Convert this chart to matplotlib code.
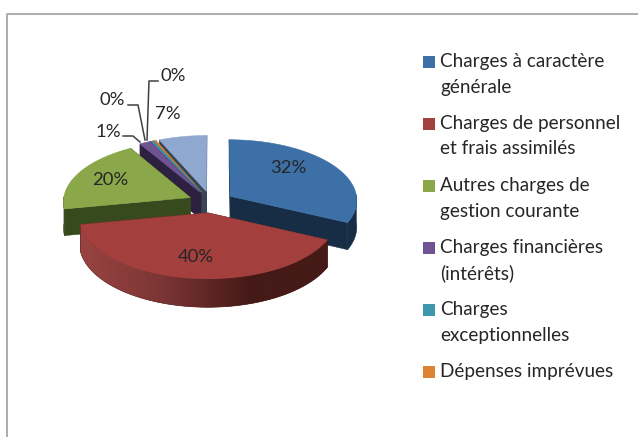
import numpy as np
import matplotlib
matplotlib.use("Agg")
import matplotlib.pyplot as plt
from matplotlib.colors import LinearSegmentedColormap
from matplotlib.patches import Polygon, Rectangle

plt.rcParams["font.family"] = ["Lato", "DejaVu Sans"]

categories = ["Charges à caractère\ngénérale",
              "Charges de personnel\net frais assimilés",
              "Autres charges de\ngestion courante",
              "Charges financières\n(intérêts)",
              "Charges\nexceptionnelles",
              "Dépenses imprévues"]
labels = ["32%", "40%", "20%", "1%", "0%", "0%", "7%"]
values = [32, 40, 19.5, 1.4, 0.3, 0.3, 6.5]
colors = ["#3c70a6", "#a33f3d", "#8aa84a", "#6f5392", "#3d97ad", "#dd8432", "#8ea8cf"]
dark = ["#172d46", "#451a17", "#374a1e", "#2e2040", "#1c4450", "#6a3d14", "#3a4458"]

cx, cy = 211, 202     # pie centre, px
rx, ry = 127, 60.5
persp = 0.06
depth = 26.5
explode = 0.18

fig = plt.figure(figsize=(6.38, 4.37), dpi=100)
ax = fig.add_axes([0, 0, 1, 1])

def project(x, y, down=False):
  w = 1 + persp * y
  return (cx + rx * x / w, cy - ry * y / w + (depth / w if down else 0))

def poly(points, color, z):
  return ax.add_patch(Polygon(points, closed=True, facecolor=color, edgecolor=color,
                              linewidth=0.4, zorder=z))

def drawWedge(start, end, top, side, z, shade=False):
  mid = np.radians((start + end) / 2)
  ox, oy = explode * np.sin(mid), explode * np.cos(mid)
  angles = np.radians(np.arange(start, end + 0.5, 0.5))
  if angles[-1] < np.radians(end):
    angles = np.append(angles, np.radians(end))
  rim = [(ox + np.sin(a), oy + np.cos(a)) for a in angles]
  # cut faces
  for (px, py) in (rim[0], rim[-1]):
    poly([project(ox, oy), project(px, py),
          project(px, py, True), project(ox, oy, True)], side, z)
  # outer wall, only the front half shows
  front = [p for p, a in zip(rim, angles) if np.cos(a) < 0.02]
  if len(front) > 1:
    outline = [project(*p) for p in front] + [project(*p, True) for p in front[::-1]]
    wall = poly(outline, side, z)
    if shade:  # the red wall gets lighter towards the left
      ramp = LinearSegmentedColormap.from_list("wall", ["#9a4442", "#7a3534", side, side])
      grad = ax.imshow(np.linspace(0, 1, 300).reshape(1, -1), cmap=ramp, aspect="auto",
                       extent=(78, 335, 320, 220), zorder=z + 0.2)
      grad.set_clip_path(wall)
  poly([project(ox, oy)] + [project(*p) for p in rim], top, z + 0.5)

fractions = np.array(values) / sum(values) * 360
edges = np.concatenate([[0], np.cumsum(fractions)])
# back wedges first, red is closest to the viewer
order = [6, 5, 4, 3, 2, 0, 1]
for z, i in enumerate(order):
  drawWedge(edges[i], edges[i + 1], colors[i], dark[i], z + 2, shade=(i == 1))

# slice labels
label_xy = [(288, 168), (196, 257), (110, 180), (108, 132), (112, 100), (173, 76), (168, 114)]
for s, (x, y) in zip(labels, label_xy):
  ax.text(x, y, s, fontsize=13.3, color="#262626", ha="center", va="center", zorder=20)

# leader lines
leaders = [([123, 133, 140], [136, 136, 142]),
           ([128, 138, 145], [105, 105, 140]),
           ([158, 149, 147], [81, 81, 140])]
for xs, ys in leaders:
  ax.plot(xs, ys, color="#404040", linewidth=1.1, zorder=19)

# legend
y = 62
for name, color in zip(categories, colors):
  ax.add_patch(Rectangle((423, y - 6), 12, 12, facecolor=color, edgecolor="none"))
  for j, line in enumerate(name.split("\n")):
    ax.text(440, y + j * 25, line, fontsize=13.6, color="#262626", va="center", ha="left")
  y += 62

# frame, only top and left fall inside the crop
ax.plot([7, 7, 638], [437, 14, 14], color="#a6a6a6", linewidth=1.3, zorder=1)

ax.set_xlim(0, 638)
ax.set_ylim(437, 0)
ax.axis("off")

fig.savefig("out.png", dpi=100)
